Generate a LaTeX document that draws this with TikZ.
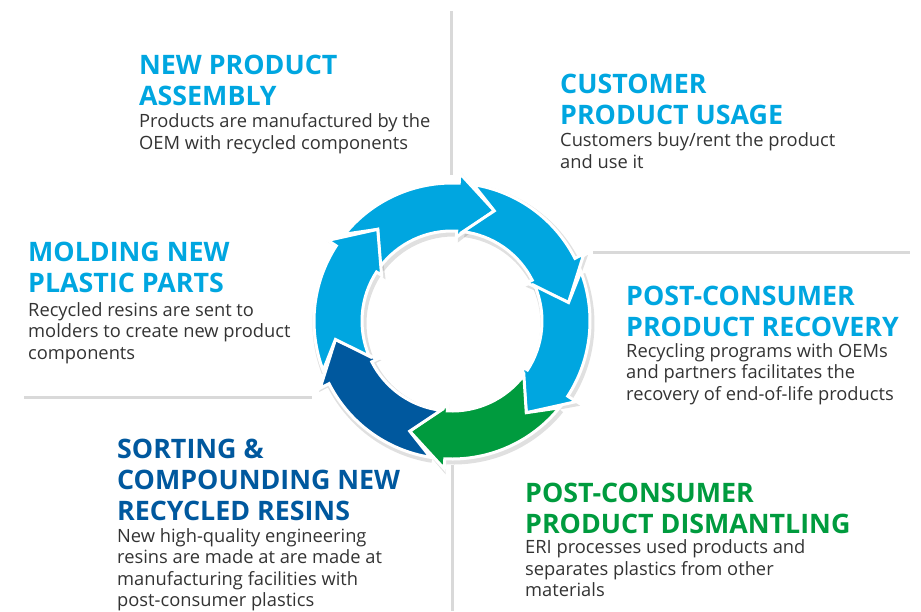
\documentclass[tikz,border=0pt]{standalone}
\usepackage{fontspec}
\setmainfont{Open Sans}
\usetikzlibrary{positioning}
\definecolor{erlightblue}{RGB}{0,166,224}
\definecolor{erdarkblue}{RGB}{0,88,158}
\definecolor{ergreen}{RGB}{0,155,62}
\definecolor{ertext}{RGB}{51,51,51}
\definecolor{ergrey}{RGB}{217,217,217}

\begin{document}
\begin{tikzpicture}[x=1pt,y=1pt,line join=miter,
  head/.style={anchor=base west,inner sep=0pt,align=left,font=\bfseries\fontsize{26.8}{31}\selectfont},
  body/.style={anchor=base west,inner sep=0pt,align=left,text=ertext,font=\fontsize{18.3}{21.5}\selectfont},
  divider/.style={ergrey,line width=3pt}]
\useasboundingbox (0,0) rectangle (921,-611);
% divider lines
\draw[divider] (451,-11) -- (451,-175);
\draw[divider] (593,-252) -- (910,-252);
\draw[divider] (24,-397) -- (312,-397);
\draw[divider] (452,-465) -- (452,-611);
% ring of arrows
\begin{scope}[shift={(452,-321)}]
\foreach \tip in {69,9,-51,-111,-171,129}
  \fill[black,opacity=0.12,shift={(1.5,-2.5)}] ({\tip+72}:141) arc[start angle=\tip+72,end angle=\tip+18,radius=141pt]
    -- ({\tip+18}:151) -- (\tip:118) -- ({\tip+18}:81) -- ({\tip+18}:87)
    arc[start angle=\tip+18,end angle=\tip+74,radius=87pt] -- cycle;
\foreach \tip/\col in {69/erlightblue,9/erlightblue,-51/erlightblue,-111/ergreen,-171/erdarkblue,129/erlightblue}
  \filldraw[fill=\col,draw=white,line width=3pt] ({\tip+72}:138) arc[start angle=\tip+72,end angle=\tip+18,radius=138pt]
    -- ({\tip+18}:148) -- (\tip:118) -- ({\tip+18}:84) -- ({\tip+18}:90)
    arc[start angle=\tip+18,end angle=\tip+74,radius=90pt] -- ({\tip+60}:118) -- cycle;
\end{scope}
% headings and texts (placed at the baseline of their last line)
\node[head,text=erlightblue] (assemblyhead) at (139,-105) {NEW PRODUCT\\ASSEMBLY};
\node[body] (assemblytext) at (139,-149) {Products are manufactured by the\\OEM with recycled components};
\node[head,text=erlightblue] (usagehead) at (560,-124.5) {CUSTOMER\\PRODUCT USAGE};
\node[body] (usagetext) at (560,-168) {Customers buy/rent the product\\and use it};
\node[head,text=erlightblue] (moldinghead) at (28,-292.5) {MOLDING NEW\\PLASTIC PARTS};
\node[body] (moldingtext) at (28,-359) {Recycled resins are sent to\\molders to create new product\\components};
\node[head,text=erlightblue] (recoveryhead) at (626,-336.7) {POST-CONSUMER\\PRODUCT RECOVERY};
\node[body] (recoverytext) at (626,-400) {Recycling programs with OEMs\\and partners facilitates the\\recovery of end-of-life products};
\node[head,text=erdarkblue] (sortinghead) at (117,-520) {SORTING \&\\COMPOUNDING NEW\\RECYCLED RESINS};
\node[body] (sortingtext) at (117,-606.7) {New high-quality engineering\\resins are made at are made at\\manufacturing facilities with\\post-consumer plastics};
\node[head,text=ergreen] (dismantlinghead) at (525,-533.3) {POST-CONSUMER\\PRODUCT DISMANTLING};
\node[body] (dismantlingtext) at (525,-596.7) {ERI processes used products and\\separates plastics from other\\materials};
\end{tikzpicture}
\end{document}
